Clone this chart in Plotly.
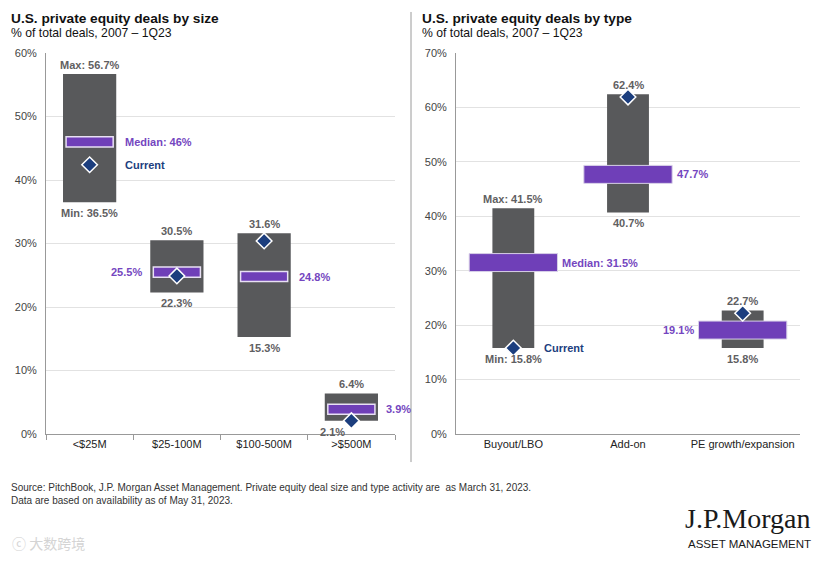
import plotly.graph_objects as go

# ---------------- data ----------------
size_cats = ["<$25M", "$25-100M", "$100-500M", ">$500M"]
size_min = [36.5, 22.3, 15.3, 2.1]
size_max = [56.7, 30.5, 31.6, 6.4]
size_median = [46, 25.5, 24.8, 3.9]
size_current = [42.4, 24.9, 30.4, 2.1]

type_cats = ["Buyout/LBO", "Add-on", "PE growth/expansion"]
type_min = [15.8, 40.7, 15.8]
type_max = [41.5, 62.4, 22.7]
type_median = [31.5, 47.7, 19.1]
type_current = [15.8, 61.9, 22.2]

size_ticks = [0, 10, 20, 30, 40, 50, 60]
type_ticks = [0, 10, 20, 30, 40, 50, 60, 70]

# ---------------- styles ----------------
PAGE_MARGIN = 8           # default body margin of the page
W, H = 831 - 2 * PAGE_MARGIN, 566 - 2 * PAGE_MARGIN
BOX = "#58595b"
PURPLE = "#6f3fb8"
PURPLE_TXT = "#7446c0"
NAVY = "#1c3e7e"
GRAY_TXT = "#5f6062"
FONT = "Liberation Sans, Arial, sans-serif"

def px(x):
    return (x - PAGE_MARGIN) / W

def py(y):
    yc = (y - 6.2) / 0.978
    return 1 - (yc - PAGE_MARGIN) / H

fig = go.Figure()

def add_panel(cats, mn, mx, med, cur, xa, ya, box_w, med_w, med_thick, med_line):
    fig.add_trace(go.Bar(
        x=cats, y=[b - a for a, b in zip(mn, mx)], base=mn, width=box_w,
        marker=dict(color=BOX, line=dict(width=0)), xaxis=xa, yaxis=ya,
        showlegend=False, hoverinfo="skip"))
    fig.add_trace(go.Bar(
        x=cats, y=[med_thick] * len(cats), base=[m - med_thick / 2 for m in med],
        width=med_w,
        marker=dict(color=PURPLE, line=dict(width=med_line[0], color=med_line[1])),
        xaxis=xa, yaxis=ya, showlegend=False, hoverinfo="skip"))
    fig.add_trace(go.Scatter(
        x=cats, y=cur, mode="markers", xaxis=xa, yaxis=ya,
        marker=dict(symbol="diamond", size=12, color=NAVY,
                    line=dict(width=1.5, color="white")),
        showlegend=False, hoverinfo="skip"))

add_panel(size_cats, size_min, size_max, size_median, size_current, "x", "y",
          0.61, 0.54, 1.6, (1.5, "#e8e0f4"))
add_panel(type_cats, type_min, type_max, type_median, type_current, "x2", "y2",
          0.365, 0.77, 3.3, (1, "#d8d0e8"))

ann = []

def fmt(v):
    return f"{v:g}%"

def labels(cats, mn, mx, med, cur, xr, yr, med_side, med_off, min_xshift, cur_off):
    for i, c in enumerate(cats):
        first = i == 0
        ann.append(dict(x=c, y=mx[i], xref=xr, yref=yr, yanchor="bottom", yshift=1,
                        text=("Max: " if first else "") + fmt(mx[i]), showarrow=False,
                        font=dict(size=11, color=GRAY_TXT, family=FONT, weight="bold")))
        ann.append(dict(x=c, y=mn[i], xref=xr, yref=yr, yanchor="top", yshift=-3,
                        xshift=min_xshift[i],
                        text=("Min: " if first else "") + fmt(mn[i]), showarrow=False,
                        font=dict(size=11, color=GRAY_TXT, family=FONT, weight="bold")))
        side = med_side[i]
        ann.append(dict(x=c, y=med[i], xref=xr, yref=yr, yanchor="middle",
                        xanchor="left" if side > 0 else "right", xshift=side * med_off,
                        text=("Median: " if first else "") + fmt(med[i]), showarrow=False,
                        font=dict(size=11, color=PURPLE_TXT, family=FONT, weight="bold")))
    ann.append(dict(x=cats[0], y=cur[0], xref=xr, yref=yr, yanchor="middle",
                    xanchor="left", xshift=cur_off, text="Current", showarrow=False,
                    font=dict(size=11, color=NAVY, family=FONT, weight="bold")))

labels(size_cats, size_min, size_max, size_median, size_current, "x", "y",
       [1, -1, 1, 1], 33, [0, 0, 0, -19], 33)
labels(type_cats, type_min, type_max, type_median, type_current, "x2", "y2",
       [1, 1, -1], 47, [0, 0, 0], 29)

# titles
for x0, t in [(9, "U.S. private equity deals by size"), (420, "U.S. private equity deals by type")]:
    ann.append(dict(x=px(x0), y=py(19), xref="paper", yref="paper", xanchor="left",
                    yanchor="middle", showarrow=False, text=t,
                    font=dict(size=13.7, color="#111", family=FONT, weight="bold")))
    ann.append(dict(x=px(x0), y=py(33.5), xref="paper", yref="paper", xanchor="left",
                    yanchor="middle", showarrow=False, text="% of total deals, 2007 – 1Q23",
                    font=dict(size=12.2, color="#111", family=FONT)))

# footer
ann.append(dict(x=px(9), y=py(494), xref="paper", yref="paper", xanchor="left",
                yanchor="middle", showarrow=False, align="left",
                text="Source: PitchBook, J.P. Morgan Asset Management. Private equity deal size and type activity are  as March 31, 2023.<br>Data are based on availability as of May 31, 2023.",
                font=dict(size=10, color="#333", family=FONT)))
ann.append(dict(x=px(813), y=py(518), xref="paper", yref="paper", xanchor="right",
                yanchor="middle", showarrow=False, text="J.P.Morgan",
                font=dict(size=28, color="#1a1a1a", family="Liberation Serif, serif")))
ann.append(dict(x=px(813), y=py(544), xref="paper", yref="paper", xanchor="right",
                yanchor="middle", showarrow=False, text="ASSET MANAGEMENT",
                font=dict(size=11.5, color="#1a1a1a", family=FONT)))
ann.append(dict(x=px(10), y=py(543), xref="paper", yref="paper", xanchor="left",
                yanchor="middle", showarrow=False, text="ⓒ 大数跨境",
                font=dict(size=14, color="#d4d4d4", family="Noto Sans CJK SC")))

shapes = [
    dict(type="line", xref="paper", yref="paper", x0=px(411), x1=px(411),
         y0=py(12), y1=py(462), line=dict(color="#9a9a9a", width=1)),
]

axis_common = dict(showgrid=True, gridcolor="#e2e2e2", gridwidth=1, zeroline=False,
                   showline=True, linecolor="#999", linewidth=1,
                   tickfont=dict(size=11, color="#444", family=FONT))

fig.update_layout(
    width=W, height=H, margin=dict(l=0, r=0, t=0, b=0),
    paper_bgcolor="white", plot_bgcolor="white", barmode="overlay",
    font=dict(family=FONT),
    xaxis=dict(domain=[px(46), px(395)], type="category", range=[-0.5, 3.5],
               showline=True, linecolor="#999", showgrid=False, ticks="outside",
               tickson="boundaries", ticklen=5, tickcolor="#999",
               tickfont=dict(size=11, color="#222", family=FONT), anchor="y"),
    yaxis=dict(domain=[py(434), py(53)], range=[0, 60], tickvals=size_ticks,
               ticktext=[f"{t}%" for t in size_ticks], ticklabelstandoff=6,
               anchor="x", **axis_common),
    xaxis2=dict(domain=[px(456), px(800)], type="category", range=[-0.5, 2.5],
                showline=True, linecolor="#999", showgrid=False, ticks="",
                tickfont=dict(size=11, color="#222", family=FONT), anchor="y2"),
    yaxis2=dict(domain=[py(434), py(53)], range=[0, 70], tickvals=type_ticks,
                ticktext=[f"{t}%" for t in type_ticks], ticklabelstandoff=6,
                anchor="x2", **axis_common),
    annotations=ann, shapes=shapes,
)

fig.write_html("out.html")
